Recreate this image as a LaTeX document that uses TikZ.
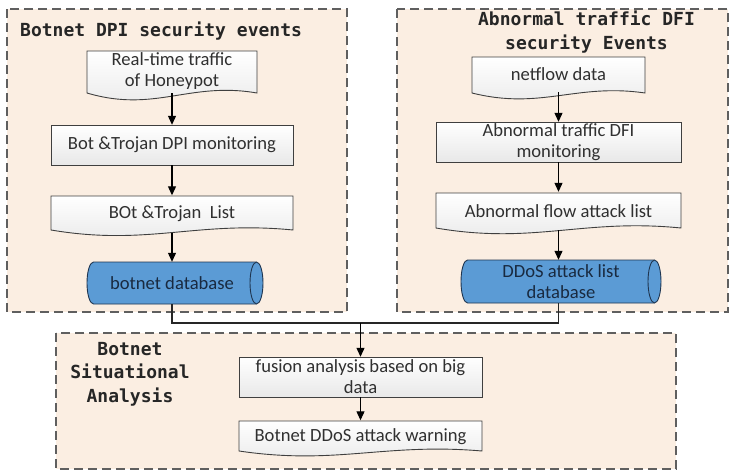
\documentclass[tikz,border=0pt]{standalone}
\usepackage{fontspec}
\setmainfont{Carlito}
\newfontfamily\titlefont{DejaVu Sans Mono}
\usetikzlibrary{arrows.meta}
\definecolor{panelfill}{HTML}{FBEEE2}
\definecolor{panelline}{HTML}{5F5F5F}
\definecolor{dbblue}{HTML}{5B9BD5}
\definecolor{dbline}{HTML}{1F3550}
\definecolor{boxline}{HTML}{3F3F3F}
\definecolor{boxtext}{HTML}{303030}
\tikzset{
  panel/.style={draw=panelline, fill=panelfill, line width=1.4pt, dash pattern=on 9pt off 5pt},
  paneltitle/.style={font=\titlefont\bfseries\fontsize{18}{23.5}\selectfont, text=black!85, align=center, inner sep=0pt},
  boxshade/.style={top color=white, bottom color=black!9, draw=boxline, line width=0.9pt},
  dbshade/.style={fill=dbblue, draw=dbline, line width=0.9pt},
  shapetext/.style={font=\fontsize{18.6}{21}\selectfont, text=boxtext, align=center, inner sep=0pt},
  arr/.style={draw=black, line width=1.1pt, -{Triangle[length=9pt,width=8pt]}},
  link/.style={draw=black!85, line width=1.1pt},
}
% document shape: left, top, right, bottom edge
\newcommand\docpath[4]{%
  \pgfmathsetmacro\docA{#1+0.60*(#3-#1)}%
  \pgfmathsetmacro\docB{#1+0.40*(#3-#1)}%
  \pgfmathsetmacro\docH{#4-#2}%
  \shade[boxshade] (#1,#2) -- (#3,#2) -- (#3,#4)
    .. controls (\docA,#4-0.28*\docH) and (\docB,#4+0.48*\docH) .. (#1,#4) -- cycle;}
% database cylinder: left, top, right, bottom
\newcommand\dbpath[4]{%
  \pgfmathsetmacro\dbR{(#4-#2)/2}%
  \filldraw[dbshade] (#1+6.5,#2) -- (#3-6.5,#2)
    arc[start angle=90, end angle=-90, x radius=6.5pt, y radius=\dbR pt]
    -- (#1+6.5,#4)
    arc[start angle=270, end angle=90, x radius=6.5pt, y radius=\dbR pt] -- cycle;
  \draw[dbline, line width=0.9pt] (#3-6.5,#2)
    arc[start angle=90, end angle=270, x radius=6.5pt, y radius=\dbR pt];}
\begin{document}
\begin{tikzpicture}[x=1pt, y=-1pt]
\useasboundingbox (0,0) rectangle (730,471);

% panels
\path[panel] (7,9) rectangle (347,312);
\path[panel] (397,9) rectangle (728,312);
\path[panel] (56,333) rectangle (676,469);

\node[paneltitle, anchor=west] (tleft) at (20,31) {Botnet DPI security events};
\node[paneltitle] (tright) at (586.5,32) {Abnormal traffic DFI\\security Events};
\node[paneltitle] (tbottom) at (130,374) {Botnet\\Situational\\Analysis};

% left column
\docpath{87}{51}{257}{93}
\node[shapetext, minimum width=170pt, minimum height=43pt] (honey) at (172,71.5) {Real-time traffic\\of Honeypot};

\shade[boxshade] (51,125) rectangle (293,165);
\node[shapetext, minimum width=242pt, minimum height=40pt] (botdpi) at (172,145) {Bot \&Trojan DPI monitoring};

\docpath{51}{196}{293}{230}
\node[shapetext, minimum width=242pt, minimum height=37pt] (botlist) at (172,214) {BOt \&Trojan\ \ List};

\dbpath{87}{262}{263}{304}
\node[shapetext, text=dbline!80!black, minimum width=176pt, minimum height=42pt] (botdb) at (172,283) {botnet database};

% right column
\docpath{472}{57}{645}{93}
\node[shapetext, minimum width=173pt, minimum height=36pt] (netflow) at (558.5,74) {netflow data};

\shade[boxshade] (436,122) rectangle (681,162);
\node[shapetext, minimum width=245pt, minimum height=40pt] (dfimon) at (558.5,142) {Abnormal traffic DFI\\monitoring};

\docpath{436}{193}{681}{228}
\node[shapetext, minimum width=245pt, minimum height=38pt] (flowlist) at (558.5,211) {Abnormal flow attack list};

\dbpath{461}{260}{661}{303}
\node[shapetext, text=dbline!80!black, minimum width=200pt, minimum height=43pt] (ddosdb) at (561,281.5) {DDoS attack list\\database};

% bottom column
\shade[boxshade] (239,357) rectangle (482,397);
\node[shapetext, minimum width=243pt, minimum height=40pt] (fusion) at (360.5,377) {fusion analysis based on big\\data};

\docpath{239}{421}{482}{451}
\node[shapetext, minimum width=243pt, minimum height=33pt] (warn) at (360.5,437) {Botnet DDoS attack warning};

% connectors
\draw[arr] (honey) -- (botdpi);
\draw[arr] (botdpi) -- (botlist);
\draw[arr] (botlist) -- (botdb);
\draw[arr] (netflow) -- (dfimon);
\draw[arr] (dfimon) -- (flowlist);
\draw[arr] (flowlist.south) -- (flowlist.south |- ddosdb.north);

\coordinate (merge) at (360.5,323);
\draw[link] (botdb.south) |- (merge);
\draw[link] (ddosdb.south -| flowlist.south) |- (merge);
\draw[arr] (merge) -- (fusion);
\draw[arr] (fusion) -- (warn);
\end{tikzpicture}
\end{document}
